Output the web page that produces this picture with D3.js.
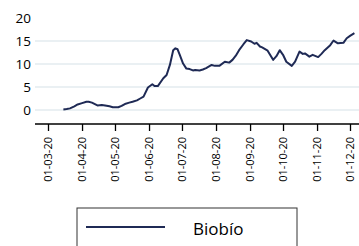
<!DOCTYPE html>
<html>
<head>
<meta charset="utf-8">
<script src="https://cdn.jsdelivr.net/npm/d3@7"></script>
<style>
  html, body { margin: 0; padding: 0; background: #fff; }
  svg { display: block; }
  text { font-family: "Open Sans", "Liberation Sans", Arial, sans-serif; fill: #000; }
</style>
</head>
<body>
<svg id="chart" width="359" height="246"></svg>
<script>
// ---- data ----
const dates = [
  "2020-03-15","2020-03-18","2020-03-21","2020-03-25","2020-03-28","2020-04-01","2020-04-05",
  "2020-04-07","2020-04-10","2020-04-15","2020-04-19","2020-04-22","2020-04-26","2020-04-29",
  "2020-05-04","2020-05-07","2020-05-10","2020-05-14","2020-05-17","2020-05-21","2020-05-24",
  "2020-05-27","2020-05-31","2020-06-04","2020-06-06","2020-06-09","2020-06-14","2020-06-17",
  "2020-06-20","2020-06-23","2020-06-25","2020-06-27","2020-06-29","2020-07-02","2020-07-05",
  "2020-07-08","2020-07-11","2020-07-13","2020-07-17","2020-07-20","2020-07-23","2020-07-28",
  "2020-07-31","2020-08-04","2020-08-09","2020-08-13","2020-08-16","2020-08-19","2020-08-22",
  "2020-08-26","2020-08-29","2020-09-02","2020-09-05","2020-09-07","2020-09-10","2020-09-12",
  "2020-09-17","2020-09-22","2020-09-25","2020-09-28","2020-10-01","2020-10-04","2020-10-09",
  "2020-10-12","2020-10-16","2020-10-19","2020-10-21","2020-10-25","2020-10-28","2020-11-02",
  "2020-11-05","2020-11-08","2020-11-13","2020-11-16","2020-11-20","2020-11-25","2020-11-28",
  "2020-12-01","2020-12-05"
];
const biobio = [
  0.1, 0.2, 0.35, 0.8, 1.2, 1.5, 1.8,
  1.8, 1.6, 1.0, 1.1, 1.0, 0.8, 0.6,
  0.6, 0.9, 1.3, 1.6, 1.8, 2.1, 2.5,
  2.9, 4.9, 5.6, 5.2, 5.2, 6.9, 7.6,
  9.8, 13.0, 13.4, 13.2, 12.0, 10.1, 9.0,
  8.9, 8.6, 8.7, 8.6, 8.8, 9.1, 9.8,
  9.6, 9.6, 10.5, 10.3, 10.9, 11.8, 13.0,
  14.3, 15.2, 14.9, 14.4, 14.6, 13.8, 13.6,
  12.9, 10.9, 11.7, 13.0, 12.0, 10.5, 9.6,
  10.5, 12.7, 12.2, 12.3, 11.6, 12.0, 11.5,
  12.2, 13.0, 14.1, 15.1, 14.5, 14.6, 15.6,
  16.1, 16.7
];
const yTicks = [0, 5, 10, 15, 20];
const gridValues = [0, 5, 10, 15];
const xTicks = ["2020-03-01","2020-04-01","2020-05-01","2020-06-01","2020-07-01",
                "2020-08-01","2020-09-01","2020-10-01","2020-11-01","2020-12-01"];
const seriesName = "Biobío";

// ---- drawing ----
const parse = d3.utcParse("%Y-%m-%d");
const data = dates.map((d, i) => ({ date: parse(d), value: biobio[i] }));
const svg = d3.select("#chart");
const font = "'Open Sans', 'Liberation Sans', Arial, sans-serif";

const x = d3.scaleUtc()
  .domain([parse("2020-03-01"), parse("2020-12-01")])
  .range([48, 350]);
const y = d3.scaleLinear().domain([0, 20]).range([110, 18]);

const lineColor = "#1f2a55";

// gridlines
svg.append("g").selectAll("line").data(gridValues).join("line")
  .attr("x1", 35).attr("x2", 359)
  .attr("y1", d => y(d)).attr("y2", d => y(d))
  .attr("stroke", "#e3ebef").attr("stroke-width", 1.5);

// y labels
const yAxis = svg.append("g").attr("transform", "translate(31,0)")
  .call(d3.axisLeft(y).tickValues(yTicks).tickSize(0).tickPadding(0));
yAxis.select(".domain").remove();
yAxis.selectAll("text").style("font-size", "13.5px")
  .style("font-family", font).attr("fill", "#000");

// x axis
const xAxisY = 124;
const xg = svg.append("g").attr("transform", `translate(0,${xAxisY})`)
  .call(d3.axisBottom(x).tickValues(xTicks.map(parse))
    .tickFormat(d3.utcFormat("%d-%m-%y")).tickSize(7).tickSizeOuter(0));
xg.select(".domain").attr("d", "M35,0H359").attr("stroke", "#000").attr("stroke-width", 1.5);
xg.selectAll(".tick line").attr("stroke", "#000").attr("stroke-width", 1.3);
xg.selectAll("text")
  .style("font-size", "11px")
  .style("font-family", font)
  .attr("fill", "#000")
  .attr("text-anchor", "end")
  .attr("transform", "rotate(-90)")
  .attr("x", -13).attr("y", 0).attr("dy", "0.35em");

// line
svg.append("path").datum(data)
  .attr("fill", "none").attr("stroke", lineColor).attr("stroke-width", 2)
  .attr("stroke-linejoin", "round")
  .attr("d", d3.line().x(d => x(d.date)).y(d => y(d.value)));

// legend
const lg = svg.append("g");
lg.append("rect").attr("x", 77).attr("y", 208).attr("width", 220).attr("height", 50)
  .attr("fill", "#fff").attr("stroke", "#333").attr("stroke-width", 1);
lg.append("line").attr("x1", 86).attr("x2", 165).attr("y1", 227).attr("y2", 227)
  .attr("stroke", lineColor).attr("stroke-width", 2);
lg.append("text").attr("x", 193).attr("y", 235).style("font-size", "17px")
  .style("font-family", font).text(seriesName);
</script>
</body>
</html>
